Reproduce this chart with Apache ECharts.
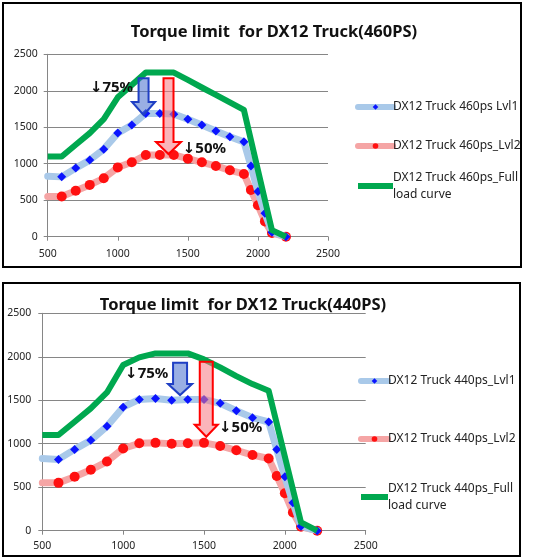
<!DOCTYPE html>
<html>
<head>
<meta charset="utf-8">
<script src="https://cdn.jsdelivr.net/npm/echarts@6/dist/echarts.min.js"></script>
<style>
html,body{margin:0;padding:0;background:#fff;}
#c{width:536px;height:559px;}
</style>
</head>
<body>
<div id="c"></div>
<script>
// ---------- data ----------
const xTicks = [500, 1000, 1500, 2000, 2500];
const yTicks = [0, 500, 1000, 1500, 2000, 2500];

const titles = ['Torque limit  for DX12 Truck(460PS)', 'Torque limit  for DX12 Truck(440PS)'];

const rpmFull = [500,600,700,800,900,1000,1100,1200,1300,1400,1500,1600,1700,1800,1900,2100,2200];
const rpmLvl  = [500,600,700,800,900,1000,1100,1200,1300,1400,1500,1600,1700,1800,1900,1950,2000,2050,2100,2200];

const names460 = ['DX12 Truck 460ps Lvl1', 'DX12 Truck 460ps_Lvl2', 'DX12 Truck 460ps_Full load curve'];
const lvl1_460 = [830,820,940,1050,1200,1420,1530,1690,1690,1680,1610,1530,1450,1370,1300,970,620,320,60,0];
const lvl2_460 = [550,550,630,710,800,950,1020,1120,1120,1120,1070,1020,970,910,860,640,430,210,50,0];
const full_460 = [1100,1100,1260,1420,1610,1910,2080,2250,2250,2250,2150,2045,1943,1840,1737,90,0];

const names440 = ['DX12 Truck 440ps_Lvl1', 'DX12 Truck 440ps_Lvl2', 'DX12 Truck 440ps_Full load curve'];
const lvl1_440 = [830,820,935,1040,1200,1420,1510,1520,1500,1510,1510,1465,1380,1300,1250,935,620,320,50,0];
const lvl2_440 = [550,550,620,700,795,945,1005,1010,1000,1005,1010,975,925,870,830,630,430,210,45,0];
const full_440 = [1100,1100,1253,1407,1590,1905,1993,2039,2039,2039,1970,1878,1778,1686,1610,96,0];

// annotation arrows (data units): [rpm, top torque, tip torque]
const arrows460 = { blue: [1184, 2171, 1668], red: [1362, 2171, 1133] };
const arrows440 = { blue: [1352, 1932, 1560], red: [1514, 1943, 1081] };
// annotation labels: [text, rpm, torque]
const labels460 = [['↓75%', 801, 2038], ['↓50%', 1464, 1202]];
const labels440 = [['↓75%', 1012, 1803], ['↓50%', 1593, 1181]];

// ---------- chart ----------
const chart = echarts.init(document.getElementById('c'));
const FONT = 'Noto Sans';
const pair = (xs, ys) => ys.map((v, i) => i === 0 ? {value: [xs[i], v], symbol: 'none'} : [xs[i], v]);

const grids = [
  {left: 47.7, right: 208, top: 54.3, bottom: 322.3},
  {left: 42.3, right: 170.3, top: 313.3, bottom: 28.3}
];

function xAxis(gi, margin) {
  return {
    type: 'value', gridIndex: gi, min: xTicks[0], max: xTicks[xTicks.length - 1], interval: 500,
    axisLine: {show: true, lineStyle: {color: '#868686', width: 1}},
    axisTick: {show: true, length: 4, lineStyle: {color: '#868686'}},
    axisLabel: {color: '#222', fontSize: 10.5, fontFamily: FONT, margin: margin, formatter: v => String(v)},
    splitLine: {show: false}
  };
}
function yAxis(gi, margin) {
  return {
    type: 'value', gridIndex: gi, min: yTicks[0], max: yTicks[yTicks.length - 1], interval: 500,
    axisLine: {show: true, lineStyle: {color: '#868686', width: 1}},
    axisTick: {show: true, length: 4, lineStyle: {color: '#868686'}},
    axisLabel: {color: '#222', fontSize: 10.5, fontFamily: FONT, margin: margin, formatter: v => String(v)},
    splitLine: {show: true, lineStyle: {color: '#868686', width: 1}}
  };
}

function seriesSet(gi, names, l1, l2, full) {
  return [
    {
      name: names[0], type: 'line', xAxisIndex: gi, yAxisIndex: gi, clip: false,
      data: pair(rpmLvl, l1), symbol: 'diamond', symbolSize: 9,
      itemStyle: {color: '#0a14ff'},
      lineStyle: {color: '#a9c9e9', width: 7, cap: 'round', join: 'round'},
      z: 3
    },
    {
      name: names[1], type: 'line', xAxisIndex: gi, yAxisIndex: gi, clip: false,
      data: pair(rpmLvl, l2), symbol: 'circle', symbolSize: 10,
      itemStyle: {color: '#ff1010'},
      lineStyle: {color: '#f5a5a5', width: 7, cap: 'round', join: 'round'},
      z: 2
    },
    {
      name: names[2], type: 'line', xAxisIndex: gi, yAxisIndex: gi, clip: false,
      data: full.map((v, i) => [rpmFull[i], v]), showSymbol: false, symbol: 'none',
      itemStyle: {color: '#00a84f'},
      lineStyle: {color: '#00a84f', width: 6, join: 'round'},
      z: 4
    }
  ];
}

function legendItem(name, left, cy, iconW, multi) {
  const lh = 17;
  const boxH = multi ? lh * 3 : lh;
  return {
    data: [name], orient: 'vertical', left: left, top: cy - boxH / 2, padding: 0,
    itemWidth: iconW, itemHeight: 7, selectedMode: false,
    formatter: n => multi ? n.replace(' load curve', '\nload curve') : n,
    lineStyle: {width: 6},
    textStyle: {fontSize: 12, fontFamily: FONT, color: '#222', lineHeight: lh, padding: multi ? [lh, 0, 0, -5] : [0, 0, 0, -5]}
  };
}

const option = {
  animation: false,
  title: [
    {text: titles[0], left: 269, top: 27, textAlign: 'center', textVerticalAlign: 'middle',
     textStyle: {fontSize: 16.5, fontWeight: 'bold', fontFamily: FONT, color: '#111'}},
    {text: titles[1], left: 238, top: 300, textAlign: 'center', textVerticalAlign: 'middle',
     textStyle: {fontSize: 16.5, fontWeight: 'bold', fontFamily: FONT, color: '#111'}}
  ],
  grid: grids,
  xAxis: [xAxis(0, 12), xAxis(1, 10)],
  yAxis: [yAxis(0, 10), yAxis(1, 11)],
  legend: [
    legendItem(names460[0], 355, 107, 35, false),
    legendItem(names460[1], 355, 146, 35, false),
    legendItem(names460[2], 355, 186, 35, true),
    legendItem(names440[0], 358, 381, 27, false),
    legendItem(names440[1], 358, 439, 27, false),
    legendItem(names440[2], 358, 497, 27, true)
  ],
  series: [].concat(
    seriesSet(0, names460, lvl1_460, lvl2_460, full_460),
    seriesSet(1, names440, lvl1_440, lvl2_440, full_440)
  )
};
chart.setOption(option);

// ---------- annotations ----------
function arrowShape(gi, a, sw, hw, hl) {
  const top = chart.convertToPixel({xAxisIndex: gi, yAxisIndex: gi}, [a[0], a[1]]);
  const tip = chart.convertToPixel({xAxisIndex: gi, yAxisIndex: gi}, [a[0], a[2]]);
  const cx = top[0], yt = top[1], yp = tip[1];
  return [[cx - sw, yt], [cx + sw, yt], [cx + sw, yp - hl], [cx + hw, yp - hl], [cx, yp], [cx - hw, yp - hl], [cx - sw, yp - hl]];
}
const blueStyle = {fill: 'rgba(70,110,205,0.55)', stroke: '#1f3fc4', lineWidth: 2};
const redStyle = {fill: 'rgba(245,120,130,0.55)', stroke: '#ff0000', lineWidth: 2};

const graphics = [
  {type: 'rect', shape: {x: 3, y: 3, width: 518, height: 264}, style: {fill: 'none', stroke: '#000', lineWidth: 2}, z: 100},
  {type: 'rect', shape: {x: 3, y: 283, width: 517, height: 273}, style: {fill: 'none', stroke: '#000', lineWidth: 2}, z: 100},
  {type: 'polygon', shape: {points: arrowShape(0, arrows460.blue, 5, 11.5, 13)}, style: blueStyle, z: 50},
  {type: 'polygon', shape: {points: arrowShape(0, arrows460.red, 5, 12.5, 12)}, style: redStyle, z: 50},
  {type: 'polygon', shape: {points: arrowShape(1, arrows440.blue, 7, 12, 11)}, style: blueStyle, z: 50},
  {type: 'polygon', shape: {points: arrowShape(1, arrows440.red, 6.5, 11.5, 12)}, style: redStyle, z: 50}
];
[[0, labels460], [1, labels440]].forEach(([gi, labs]) => {
  labs.forEach(l => {
    const p = chart.convertToPixel({xAxisIndex: gi, yAxisIndex: gi}, [l[1], l[2]]);
    graphics.push({type: 'text', x: p[0], y: p[1], z: 60,
      style: {text: l[0], fill: '#111', font: 'bold 15px "Noto Sans", "DejaVu Sans"', textAlign: 'left', textVerticalAlign: 'middle'}});
  });
});
chart.setOption({graphic: graphics});
</script>
</body>
</html>
